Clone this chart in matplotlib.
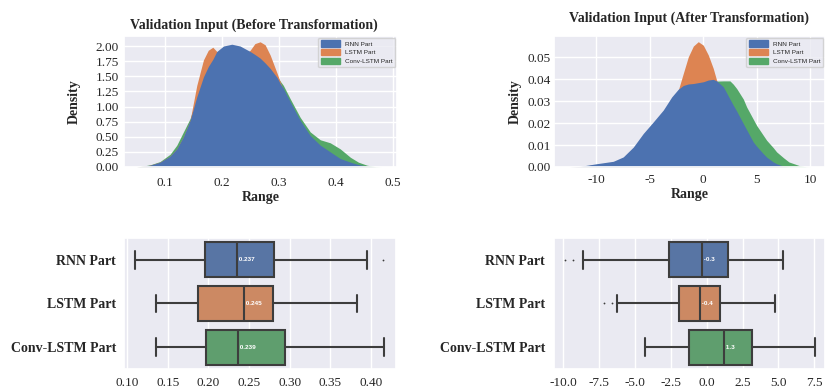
import numpy as np
import matplotlib
matplotlib.use("Agg")
import matplotlib.pyplot as plt
import seaborn as sns
from matplotlib.patches import Patch

# density curves (x, density)
before_x = [0.05, 0.0736, 0.0912, 0.1088, 0.1206, 0.1323, 0.144, 0.1558, 0.1675, 0.176,
            0.184, 0.191, 0.2027, 0.2174, 0.232, 0.2496, 0.258, 0.2672, 0.276, 0.2849,
            0.297, 0.3025, 0.308, 0.32, 0.3377, 0.3553, 0.373, 0.3905, 0.408, 0.426,
            0.44, 0.455, 0.47, 0.48]
before_rnn = [0.0, 0.03, 0.08, 0.18, 0.30, 0.50, 0.77, 1.16, 1.49, 1.66,
              1.78, 1.91, 2.00, 2.03, 2.00, 1.91, 1.86, 1.80, 1.72, 1.63,
              1.48, 1.38, 1.30, 1.08, 0.77, 0.52, 0.36, 0.25, 0.14, 0.08,
              0.04, 0.015, 0.0, 0.0]
before_lstm = [0.0, 0.03, 0.08, 0.18, 0.30, 0.50, 0.77, 1.35, 1.77, 1.93,
               1.98, 1.91, 1.78, 1.75, 1.80, 1.93, 2.04, 2.07, 2.02, 1.85,
               1.55, 1.41, 1.27, 1.02, 0.72, 0.48, 0.32, 0.22, 0.12, 0.06,
               0.03, 0.01, 0.0, 0.0]
before_conv = [0.0, 0.035, 0.09, 0.21, 0.36, 0.58, 0.80, 1.15, 1.45, 1.62,
               1.74, 1.86, 1.95, 1.98, 1.96, 1.88, 1.83, 1.78, 1.72, 1.64,
               1.50, 1.42, 1.35, 1.13, 0.82, 0.58, 0.45, 0.40, 0.30, 0.16,
               0.08, 0.03, 0.006, 0.0]

after_x = [-12.5, -11.5, -9.96, -8.41, -7.48, -6.54, -5.61, -4.67, -3.74, -2.95,
           -2.34, -1.87, -1.4, -0.93, -0.47, 0.0, 0.47, 0.93, 1.25, 1.87,
           2.49, 2.8, 3.12, 3.74, 4.05, 4.67, 4.98, 5.6, 5.92, 6.54,
           6.85, 7.5, 8.0, 9.0, 9.6, 10.0]
after_rnn = [0.0, 0.0003, 0.0015, 0.0026, 0.0046, 0.0091, 0.0153, 0.0206, 0.026, 0.032,
             0.0355, 0.0372, 0.0379, 0.0381, 0.0385, 0.0389, 0.0397, 0.040, 0.0393, 0.0366,
             0.031, 0.0282, 0.0255, 0.0198, 0.017, 0.0114, 0.0095, 0.0061, 0.0045, 0.0023,
             0.0015, 0.0003, 0.0, 0.0, 0.0, 0.0]
after_lstm = [0.0, 0.0002, 0.0012, 0.0022, 0.0040, 0.0080, 0.0140, 0.0195, 0.0250, 0.0310,
              0.0350, 0.0427, 0.0503, 0.0552, 0.0572, 0.0556, 0.0511, 0.045, 0.0395, 0.031,
              0.026, 0.023, 0.020, 0.015, 0.013, 0.009, 0.0075, 0.005, 0.0035, 0.0018,
              0.0012, 0.0002, 0.0, 0.0, 0.0, 0.0]
after_conv = [0.0, 0.0, 0.0005, 0.0012, 0.0025, 0.005, 0.009, 0.0135, 0.019, 0.025,
              0.029, 0.032, 0.0345, 0.0362, 0.0372, 0.038, 0.0385, 0.039, 0.0392, 0.0393,
              0.0393, 0.0378, 0.0358, 0.031, 0.0274, 0.0218, 0.019, 0.0145, 0.0122, 0.0088,
              0.0069, 0.0042, 0.0023, 0.0006, 0.0001, 0.0]

parts = ["RNN Part", "LSTM Part", "Conv-LSTM Part"]

# box statistics
before_box = {
    "q1": [0.1956, 0.1873, 0.1967],
    "med": [0.2352, 0.2438, 0.2368],
    "q3": [0.2808, 0.2796, 0.2945],
    "whislo": [0.1095, 0.135, 0.135],
    "whishi": [0.395, 0.3828, 0.4167],
    "fliers": [[0.4155], [], []],
}
before_med_text = ["0.237", "0.245", "0.239"]

after_box = {
    "q1": [-2.61, -1.96, -1.21],
    "med": [-0.33, -0.47, 1.21],
    "q3": [1.47, 0.95, 3.19],
    "whislo": [-8.62, -6.29, -4.31],
    "whishi": [5.35, 4.79, 7.52],
    "fliers": [[-9.89, -9.31], [-7.15, -6.64], []],
}
after_med_text = ["-0.3", "-0.4", "1.3"]

sns.set_theme(style="darkgrid")
plt.rcParams["font.family"] = ["Liberation Serif", "DejaVu Serif"]

fill_cols = ["#4C72B0", "#DD8452", "#55A868"]
box_cols = ["#5875A4", "#CC8963", "#5F9E6E"]
edge = "#3D3D3D"

fig = plt.figure(figsize=(8.25, 3.89), dpi=100)
ax1 = fig.add_axes([0.1503, 0.5707, 0.331, 0.3368])
ax2 = fig.add_axes([0.6715, 0.5707, 0.3285, 0.3368])
ax3 = fig.add_axes([0.1503, 0.0514, 0.3297, 0.3368])
ax4 = fig.add_axes([0.6715, 0.0514, 0.3285, 0.3368])


def kde_panel(ax, x, curves, title, title_pad, title_x):
    # draw conv first, rnn last so rnn sits on top
    for y, c in zip(curves[::-1], fill_cols[::-1]):
        ax.fill_between(x, 0, y, color=c, lw=0)
    ax.set_title(title, fontsize=10, fontweight="bold", pad=title_pad, x=title_x)
    ax.set_xlabel("Range", fontsize=10, fontweight="bold", labelpad=2)
    ax.set_ylabel("Density", fontsize=10, fontweight="bold")
    ax.tick_params(labelsize=9.5, length=0)
    handles = [Patch(color=c) for c in fill_cols]
    ax.legend(handles, parts, loc="upper right", prop={"family": "Liberation Sans", "size": 4.6},
              handlelength=3.0, handleheight=1.2, borderaxespad=0.25, labelspacing=0.35,
              frameon=True)


kde_panel(ax1, before_x, [before_rnn, before_lstm, before_conv],
          "Validation Input (Before Transformation)", 5, 0.476)
ax1.set_xlim(0.0278, 0.508)
ax1.set_ylim(0, 2.166)
ax1.set_xticks([0.1, 0.2, 0.3, 0.4, 0.5])
ax1.set_xticklabels(["0.1", "0.2", "0.3", "0.4", "0.5"])
ax1.set_yticks(np.arange(0, 2.01, 0.25))
ax1.set_yticklabels([f"{v:.2f}" for v in np.arange(0, 2.01, 0.25)])
ax1.tick_params(axis="x", pad=7)
ax1.tick_params(axis="y", pad=3.6)
ax1.yaxis.labelpad = 11

kde_panel(ax2, after_x, [after_rnn, after_lstm, after_conv],
          "Validation Input (After Transformation)", 10, 0.5)
ax2.set_xlim(-13.95, 11.37)
ax2.set_ylim(0, 0.0598)
ax2.set_xticks([-10, -5, 0, 5, 10])
ax2.set_xticklabels(["-10", "-5", "0", "5", "10"])
ax2.set_yticks([0, 0.01, 0.02, 0.03, 0.04, 0.05])
ax2.set_yticklabels(["0.00", "0.01", "0.02", "0.03", "0.04", "0.05"])
ax2.tick_params(axis="x", pad=4.8)
ax2.tick_params(axis="y", pad=2.4)
ax2.yaxis.labelpad = 4


def box_panel(ax, b, med_text, ypad):
    stats = []
    for i in range(3):
        stats.append({"med": b["med"][i], "q1": b["q1"][i], "q3": b["q3"][i],
                      "whislo": b["whislo"][i], "whishi": b["whishi"][i],
                      "fliers": b["fliers"][i]})
    res = ax.bxp(stats, positions=[0, 1, 2], widths=0.8, orientation="horizontal",
                 patch_artist=True, showfliers=True,
                 boxprops={"edgecolor": edge, "linewidth": 1.5},
                 whiskerprops={"color": edge, "linewidth": 1.5},
                 capprops={"color": edge, "linewidth": 1.5},
                 medianprops={"color": edge, "linewidth": 1.5},
                 flierprops={"marker": "o", "markersize": 1.3, "markerfacecolor": edge,
                             "markeredgecolor": "none"})
    for patch, c in zip(res["boxes"], box_cols):
        patch.set_facecolor(c)
    for i in range(3):
        ax.text(b["med"][i], i, " " + med_text[i], ha="left", va="center", color="white",
                fontsize=4.6, fontweight="bold", family="Liberation Sans")
    ax.set_ylim(2.5, -0.5)
    ax.set_yticks([0, 1, 2])
    ax.set_yticklabels(parts, fontsize=10, fontweight="bold")
    ax.grid(axis="y", visible=False)
    ax.tick_params(length=0)
    ax.tick_params(axis="x", labelsize=9.5, pad=5.5)
    ax.tick_params(axis="y", pad=ypad)


box_panel(ax3, before_box, before_med_text, 5.8)
ax3.set_xlim(0.096, 0.431)
ax3.set_xticks([0.10, 0.15, 0.20, 0.25, 0.30, 0.35, 0.40])
ax3.set_xticklabels(["0.10", "0.15", "0.20", "0.25", "0.30", "0.35", "0.40"])

box_panel(ax4, after_box, after_med_text, 6.5)
ax4.set_xlim(-10.66, 8.25)
ax4.set_xticks([-10, -7.5, -5, -2.5, 0, 2.5, 5, 7.5])
ax4.set_xticklabels(["-10.0", "-7.5", "-5.0", "-2.5", "0.0", "2.5", "5.0", "7.5"])

fig.savefig("out.png", dpi=100)
